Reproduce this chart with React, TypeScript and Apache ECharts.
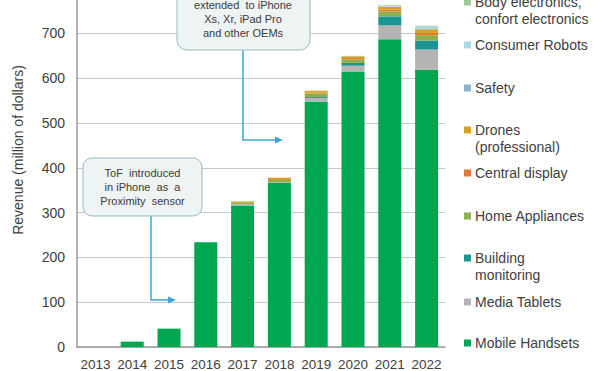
import React, { useEffect, useRef } from "react";
import * as echarts from "echarts";

const years = ["2013", "2014", "2015", "2016", "2017", "2018", "2019", "2020", "2021", "2022"];
const mobileHandsets = [0, 12, 41, 234, 316, 366, 547, 615, 687, 619];
const mediaTablets = [0, 0, 0, 0, 3, 2, 9, 13, 31, 45];
const buildingMonitoring = [0, 0, 0, 0, 0, 0, 2, 6, 20, 20];
const homeAppliances = [0, 0, 0, 0, 4, 5, 8, 8, 11, 12];
const centralDisplay = [0, 0, 0, 0, 0, 2, 2, 3, 4, 5];
const drones = [0, 0, 0, 0, 2, 3, 4, 4, 6, 8];
const safety = [0, 0, 0, 0, 0, 0, 0, 0, 1, 2];
const consumerRobots = [0, 0, 0, 0, 0, 0, 0, 1, 2, 4];
const bodyElectronics = [0, 0, 0, 0, 0, 0, 0, 0, 1, 2];

const seriesDefs = [
  { name: "Mobile Handsets", data: mobileHandsets, color: "#00a650", legend: ["Mobile Handsets"], ly: 343 },
  { name: "Media Tablets", data: mediaTablets, color: "#b4b4b4", legend: ["Media Tablets"], ly: 302 },
  { name: "Building monitoring", data: buildingMonitoring, color: "#1a9592", legend: ["Building", "monitoring"], ly: 258 },
  { name: "Home Appliances", data: homeAppliances, color: "#8eb04b", legend: ["Home Appliances"], ly: 216 },
  { name: "Central display", data: centralDisplay, color: "#e07a30", legend: ["Central display"], ly: 173 },
  { name: "Drones (professional)", data: drones, color: "#d8a31e", legend: ["Drones", "(professional)"], ly: 130 },
  { name: "Safety", data: safety, color: "#8fb1d0", legend: ["Safety"], ly: 88 },
  { name: "Consumer Robots", data: consumerRobots, color: "#a9dbe6", legend: ["Consumer Robots"], ly: 45 },
  { name: "Body electronics, confort electronics", data: bodyElectronics, color: "#9dca97", legend: ["Body electronics,", "confort electronics"], ly: 2 },
];

const FONT = "'Liberation Sans', Arial, sans-serif";
const ARROW = "#3aa6d8";
const OFFSET = 12; // chart canvas starts 12px above the page top (axis max 800 is just above the frame)

export default function App() {
  const ref = useRef<HTMLDivElement>(null);
  useEffect(() => {
    if (!ref.current) return;
    const chart = echarts.init(ref.current, undefined, { renderer: "svg" });

    const legendGraphics: any[] = [];
    seriesDefs.forEach((s) => {
      legendGraphics.push({
        type: "rect",
        shape: { x: 464, y: s.ly - 3.5, width: 7, height: 7 },
        style: { fill: s.color },
      });
      s.legend.forEach((line, i) => {
        legendGraphics.push({
          type: "text",
          x: 475,
          y: s.ly + i * 17,
          style: {
            text: line,
            fill: "#404040",
            font: `14px ${FONT}`,
            textAlign: "left",
            textVerticalAlign: "middle",
          },
        });
      });
    });

    const boxText = (lines: string[], cx: number, ys: number[]) =>
      lines.map((t, i) => ({
        type: "text",
        x: cx,
        y: ys[i],
        style: {
          text: t,
          fill: "#3a3a3a",
          font: `11px ${FONT}`,
          textAlign: "center",
          textVerticalAlign: "middle",
        },
      }));

    const children: any[] = [
      {
        type: "text",
        x: 18,
        y: 150,
        rotation: Math.PI / 2,
        style: {
          text: "Revenue (million of dollars)",
          fill: "#404040",
          font: `14px ${FONT}`,
          textAlign: "center",
          textVerticalAlign: "middle",
        },
      },
      ...legendGraphics,
      // annotation 1
      {
        type: "polyline",
        shape: { points: [[151, 216], [151, 300], [170, 300]] },
        style: { stroke: ARROW, lineWidth: 1.5, fill: "none" },
      },
      {
        type: "polygon",
        shape: { points: [[168, 296.5], [176, 300], [168, 303.5]] },
        style: { fill: ARROW },
      },
      {
        type: "rect",
        shape: { x: 83, y: 158, width: 119, height: 58, r: 9 },
        style: { fill: "#eef3f3", stroke: "#93bcc0", lineWidth: 1 },
      },
      ...boxText(["ToF  introduced", "in iPhone  as  a", "Proximity  sensor"], 142.5, [173, 187, 200.5]),
      // annotation 2
      {
        type: "polyline",
        shape: { points: [[243, 50], [243, 140], [277, 140]] },
        style: { stroke: ARROW, lineWidth: 1.5, fill: "none" },
      },
      {
        type: "polygon",
        shape: { points: [[275, 136.5], [283, 140], [275, 143.5]] },
        style: { fill: ARROW },
      },
      {
        type: "rect",
        shape: { x: 177, y: -20, width: 133, height: 70, r: 10 },
        style: { fill: "#eef3f3", stroke: "#93bcc0", lineWidth: 1 },
      },
      ...boxText(["extended  to iPhone", "Xs, Xr, iPad Pro", "and other OEMs"], 243, [5, 19, 32.5]),
    ].map((c) => ({ ...c, z: 100 }));

    const option: any = {
      animation: false,
      grid: { left: 77, right: 155, top: 0.6, bottom: 19, containLabel: false },
      xAxis: {
        type: "category",
        data: years,
        axisLine: { lineStyle: { color: "#9a9a9a", width: 1.5 } },
        axisTick: { show: false },
        axisLabel: { color: "#404040", fontSize: 13.5, fontFamily: FONT, margin: 10, interval: 0 },
      },
      yAxis: {
        type: "value",
        min: 0,
        max: 800,
        interval: 100,
        axisLine: { show: true, lineStyle: { color: "#9a9a9a", width: 1.5 } },
        axisTick: { show: false },
        splitLine: { lineStyle: { color: "#c8c8c8", width: 1 } },
        axisLabel: { color: "#404040", fontSize: 14, fontFamily: FONT, margin: 12, showMaxLabel: false },
      },
      series: seriesDefs.map((s) => ({
        name: s.name,
        type: "bar",
        stack: "total",
        data: s.data,
        barWidth: 23,
        itemStyle: { color: s.color },
      })),
      graphic: [
        {
          type: "group",
          x: 0,
          y: OFFSET,
          z: 100,
          children,
        },
      ],
    };
    chart.setOption(option);
    return () => chart.dispose();
  }, []);
  return (
    <div
      ref={ref}
      style={{ position: "fixed", left: 0, top: -OFFSET, width: 600, height: 371 + OFFSET, background: "#fff" }}
    />
  );
}
